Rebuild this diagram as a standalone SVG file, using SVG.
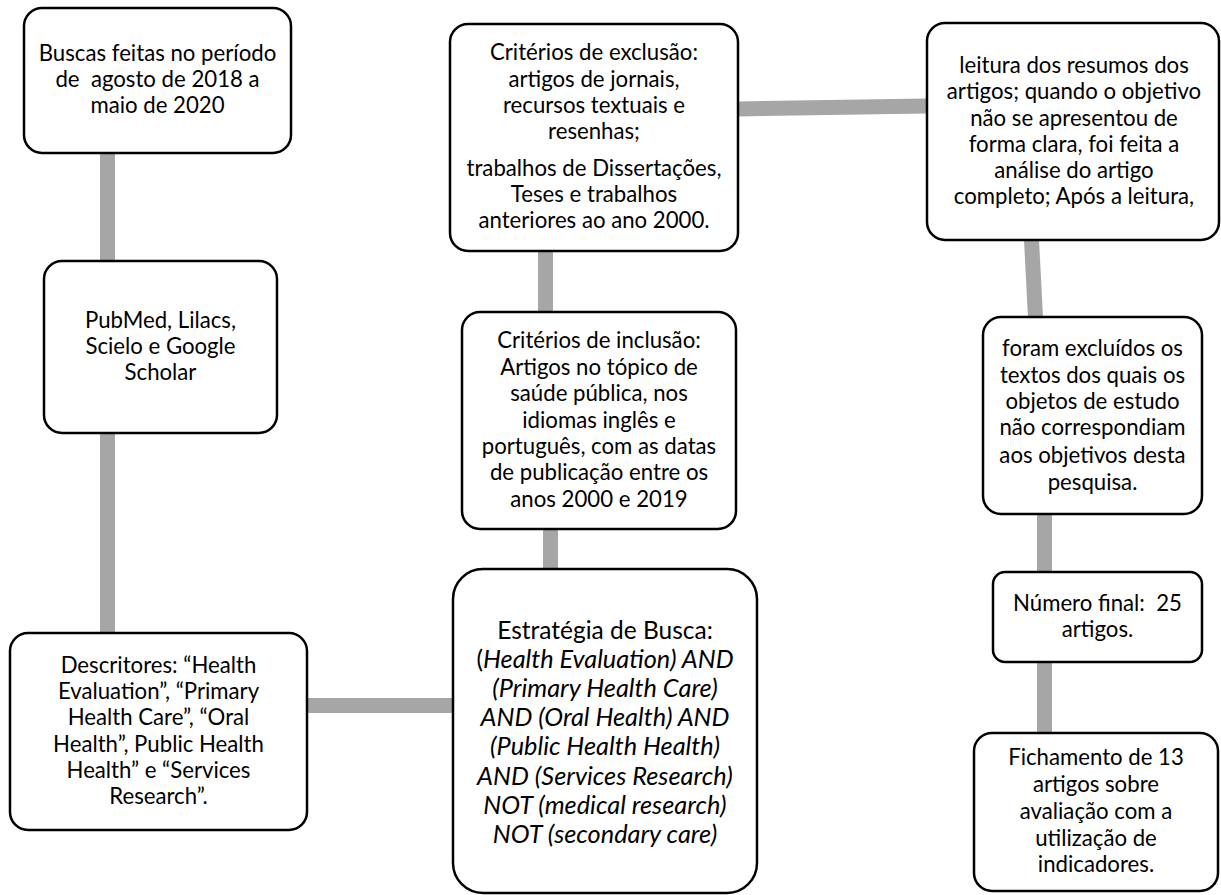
<svg xmlns="http://www.w3.org/2000/svg" width="1221" height="895" viewBox="0 0 1221 895">
<style>
.box{fill:#fff;stroke:#000;stroke-width:2.5}
.c{stroke:#a6a6a6;stroke-width:15;fill:none}
text{font-family:Lato,"Liberation Sans",sans-serif;font-size:22.2px;fill:#000;text-anchor:middle}
.i{font-style:italic;font-size:25.3px}
.big{font-size:24.5px}
</style>
<rect width="1221" height="895" fill="#fff"/>
<g id="connectors">
<line class="c" x1="107.5" y1="153" x2="107.5" y2="261"/>
<line class="c" x1="107.5" y1="433" x2="107.5" y2="633"/>
<line class="c" x1="307" y1="705.5" x2="453" y2="705.5"/>
<line class="c" x1="550.5" y1="529" x2="550.5" y2="569"/>
<line class="c" x1="545.5" y1="251" x2="545.5" y2="312"/>
<line class="c" x1="738" y1="109" x2="927" y2="106"/>
<line class="c" x1="1031.5" y1="240" x2="1035.5" y2="317"/>
<line class="c" x1="1044.5" y1="514" x2="1044.5" y2="572"/>
<line class="c" x1="1044.5" y1="662" x2="1044.5" y2="733"/>
</g>
<g id="n1">
<rect class="box" x="24" y="8" width="267" height="145" rx="18"/>
<text x="157.5" y="61">Buscas feitas no período</text>
<text x="157.5" y="87" xml:space="preserve">de  agosto de 2018 a</text>
<text x="157.5" y="113">maio de 2020</text>
</g>
<g id="n2">
<rect class="box" x="44" y="261" width="233" height="172" rx="18"/>
<text x="160.5" y="328">PubMed, Lilacs,</text>
<text x="160.5" y="354">Scielo e Google</text>
<text x="160.5" y="380">Scholar</text>
</g>
<g id="n3">
<rect class="box" x="10" y="633" width="297" height="197" rx="18"/>
<text x="158.5" y="673">Descritores: “Health</text>
<text x="158.5" y="699">Evaluation”, “Primary</text>
<text x="158.5" y="725">Health Care”, “Oral</text>
<text x="158.5" y="752">Health”, Public Health</text>
<text x="158.5" y="778">Health” e “Services</text>
<text x="158.5" y="804">Research”.</text>
</g>
<g id="n4">
<rect class="box" x="450" y="24" width="288" height="227" rx="18"/>
<text x="594" y="60">Critérios de exclusão:</text>
<text x="594" y="87">artigos de jornais,</text>
<text x="594" y="113">recursos textuais e</text>
<text x="594" y="139">resenhas;</text>
<text x="594" y="176">trabalhos de Dissertações,</text>
<text x="594" y="202">Teses e trabalhos</text>
<text x="594" y="228">anteriores ao ano 2000.</text>
</g>
<g id="n5">
<rect class="box" x="462" y="312" width="274" height="217" rx="18"/>
<text x="599" y="348">Critérios de inclusão:</text>
<text x="599" y="375">Artigos no tópico de</text>
<text x="599" y="401">saúde pública, nos</text>
<text x="599" y="428">idiomas inglês e</text>
<text x="599" y="454">português, com as datas</text>
<text x="599" y="480">de publicação entre os</text>
<text x="599" y="507">anos 2000 e 2019</text>
</g>
<g id="n6">
<rect class="box" x="453" y="569" width="304" height="324" rx="30"/>
<text class="big" x="605" y="639">Estratégia de Busca:</text>
<text class="big" x="605" y="668">(<tspan class="i">Health Evaluation) AND</tspan></text>
<text class="i" x="605" y="697">(Primary Health Care)</text>
<text class="i" x="605" y="726">AND (Oral Health) AND</text>
<text class="i" x="605" y="755">(Public Health Health)</text>
<text class="i" x="605" y="785">AND (Services Research)</text>
<text class="i" x="605" y="814">NOT (medical research)</text>
<text class="i" x="605" y="843">NOT (secondary care)</text>
</g>
<g id="n7">
<rect class="box" x="927" y="23" width="292" height="217" rx="18"/>
<text x="1074" y="73">leitura dos resumos dos</text>
<text x="1074" y="99">artigos; quando o objetivo</text>
<text x="1074" y="126">não se apresentou de</text>
<text x="1074" y="152">forma clara, foi feita a</text>
<text x="1074" y="178">análise do artigo</text>
<text x="1074" y="204">completo; Após a leitura,</text>
</g>
<g id="n8">
<rect class="box" x="983" y="317" width="219" height="197" rx="18"/>
<text x="1092.5" y="356">foram excluídos os</text>
<text x="1092.5" y="383">textos dos quais os</text>
<text x="1092.5" y="409">objetos de estudo</text>
<text x="1092.5" y="435">não correspondiam</text>
<text x="1092.5" y="463">aos objetivos desta</text>
<text x="1092.5" y="490">pesquisa.</text>
</g>
<g id="n9">
<rect class="box" x="993" y="572" width="209" height="90" rx="12"/>
<text x="1097.5" y="611" xml:space="preserve">Número final:  25</text>
<text x="1097.5" y="637">artigos.</text>
</g>
<g id="n10">
<rect class="box" x="974" y="733" width="244" height="158" rx="18"/>
<text x="1096" y="765">Fichamento de 13</text>
<text x="1096" y="792">artigos sobre</text>
<text x="1096" y="819">avaliação com a</text>
<text x="1096" y="846">utilização de</text>
<text x="1096" y="872">indicadores.</text>
</g>
</svg>
